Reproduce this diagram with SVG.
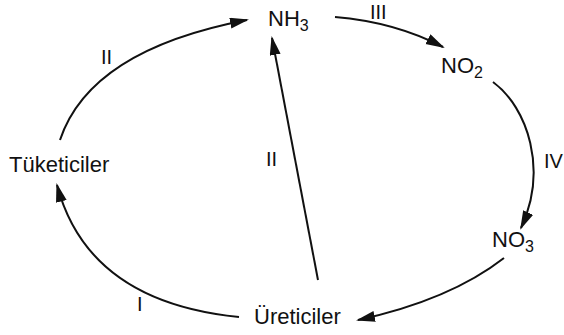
<svg xmlns="http://www.w3.org/2000/svg" width="564" height="335" viewBox="0 0 564 335">
<defs>
<marker id="ah" markerUnits="userSpaceOnUse" markerWidth="20" markerHeight="12" refX="17" refY="5.5" orient="auto">
<path d="M0,0 L19,5.5 L0,11 z" fill="#111"/>
</marker>
<style>
.t{font-family:"Liberation Sans",Arial,sans-serif;font-size:22px;fill:#111}
.s{font-size:16px}
.l{font-family:"Liberation Sans",Arial,sans-serif;font-size:20px;fill:#111}
.c{fill:none;stroke:#111;stroke-width:2;marker-end:url(#ah)}
</style>
</defs>
<rect width="564" height="335" fill="#fff"/>
<g id="connectors">
<path class="c" d="M60,140 Q90,50 247,20"/>
<path class="c" d="M335,17 Q395,22 443,47"/>
<path class="c" d="M493,82 C528,108 548,170 521,228"/>
<path class="c" d="M504,258 Q450,300 358,320"/>
<path class="c" d="M239,317 Q88,302 57,185"/>
<path class="c" d="M318,280 L272,38"/>
</g>
<g id="nh3"><text class="t" x="268" y="26">NH<tspan class="s" dy="5">3</tspan></text></g>
<g id="no2"><text class="t" x="441" y="73">NO<tspan class="s" dy="5">2</tspan></text></g>
<g id="no3"><text class="t" x="492" y="247">NO<tspan class="s" dy="5">3</tspan></text></g>
<g id="tuketiciler"><text class="t" x="9" y="172">Tüketiciler</text></g>
<g id="ureticiler"><text class="t" x="254" y="324">Üreticiler</text></g>
<g id="labels">
<text class="l" x="101" y="64">II</text>
<text class="l" x="266" y="166">II</text>
<text class="l" x="370" y="19">III</text>
<text class="l" x="544" y="168">IV</text>
<text class="l" x="137" y="311">I</text>
</g>
</svg>
